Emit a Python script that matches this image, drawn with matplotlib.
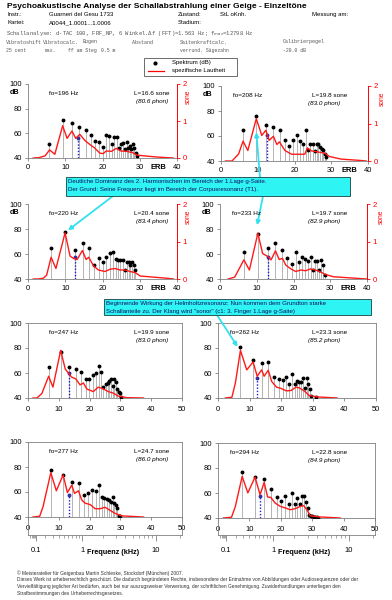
import numpy as np
import matplotlib
matplotlib.use('Agg')
import matplotlib.pyplot as plt
from matplotlib.patches import Rectangle
from matplotlib.lines import Line2D

plt.rcParams['font.family'] = ['Liberation Sans', 'DejaVu Sans']

W, H = 392, 600

# grundtöne, gesamtlautheit
fo_hz = [196, 208, 220, 233, 247, 262, 277, 294]
sone_total = [16.6, 19.8, 20.4, 19.7, 19.9, 23.3, 24.7, 22.8]
phon_total = [80.6, 83.0, 83.4, 82.9, 83.0, 85.2, 86.0, 84.9]

# spektrum (dB) je teilton n = 1, 2, 3 ...
spec_196 = [51, 71, 68, 65, 63, 59, 54, 53, 49, 58.5, 58, 51, 57, 57, 48, 51, 52, 47, 53, 48, 50, 47, 51, 48, 44, 42]
spec_208 = [65, 76, 69, 67, 64.5, 56.5, 52, 57, 61, 56, 54, 65, 48.5, 54, 54, 48, 53.5, 54, 51, 49.5, 48.5, 45.5, 43]
spec_220 = [65, 77.5, 63, 69, 65, 51, 56.5, 54, 58, 61, 62, 56, 55.5, 55.5, 55, 47.5, 54, 54, 51, 54, 51, 47.5]
spec_233 = [61.5, 76, 65, 69, 63, 57, 52, 62, 54, 58, 56, 54.5, 58, 47, 54.5, 54.5, 47, 55, 51, 43]
spec_247 = [65, 77, 65, 63, 60.5, 55, 55.5, 58.5, 60, 66, 61, 49, 51, 52, 53.5, 55.5, 50, 55.5, 52.5, 47, 44.5, 44, 40.5]
spec_262 = [80.5, 70.5, 68, 68.5, 57, 55.5, 54.5, 57, 51.5, 59.5, 51, 53.5, 53, 53, 56, 48, 56, 51, 47, 42, 38, 38, 38, 40.5]
spec_277 = [77.5, 74, 68, 67, 57.5, 59.5, 62, 61, 66, 56, 55.5, 54.5, 53.5, 52, 56, 51.5, 49.5, 47, 40.5, 41]
spec_294 = [77, 73, 71, 63, 56.5, 54, 58, 51, 60, 51, 56, 51, 58, 57.5, 53, 48, 42.5, 42, 42, 41, 40.5, 40.5, 40]

# spezifische Lautheit (ERB, sone)
laut_erb_196 = [1.4, 3.0, 4.6, 5.8, 7.2, 9.3, 10.5, 11.8, 12.8, 13.9, 15.3, 16.8, 17.8, 19.3, 20.2, 21.0, 22.4, 23.7, 24.9, 26.5, 28.2, 29.2, 31.9, 35.5, 39.0]
laut_sone_196 = [0, 0.01, 0.06, 0.22, 0.1, 0.87, 0.53, 0.73, 0.53, 0.64, 0.47, 0.35, 0.28, 0.13, 0.12, 0.19, 0.18, 0.26, 0.19, 0.18, 0.14, 0.08, 0.05, 0.02, 0]
laut_erb_208 = [1.2, 3.0, 4.8, 6.0, 7.3, 9.6, 11.1, 12.2, 13.1, 14.25, 15.2, 15.9, 17.4, 19.2, 22.8, 23.5, 24.6, 26.4, 28.2, 29.5, 32.7, 37.2, 39.5]
laut_sone_208 = [0, 0, 0.19, 0.53, 0.28, 1.13, 0.68, 0.82, 0.55, 0.66, 0.44, 0.51, 0.28, 0.18, 0.18, 0.35, 0.27, 0.24, 0.21, 0.12, 0.05, 0.02, 0]
laut_erb_220 = [1.4, 2.7, 4.1, 5.0, 6.2, 7.5, 9.95, 11.3, 12.2, 13.2, 14.6, 15.6, 16.3, 17.6, 18.9, 20.7, 22.0, 23.4, 24.7, 26.1, 27.4, 28.8, 30.1, 33.7, 37.3, 39.1]
laut_sone_220 = [0, 0, 0.02, 0.1, 0.58, 0.28, 1.23, 0.61, 0.55, 0.52, 0.76, 0.52, 0.58, 0.35, 0.24, 0.2, 0.26, 0.28, 0.24, 0.24, 0.2, 0.17, 0.08, 0.05, 0.02, 0]
laut_erb_233 = [2.2, 4.0, 6.5, 8.0, 10.3, 11.6, 13.0, 13.9, 15.1, 16.1, 17.0, 17.9, 19.3, 20.6, 22.0, 23.3, 24.6, 26.0, 27.3, 28.7, 30.9, 35.4, 39.9]
laut_sone_233 = [0, 0.05, 0.51, 0.24, 1.22, 0.68, 0.6, 0.51, 0.75, 0.52, 0.55, 0.37, 0.27, 0.2, 0.24, 0.22, 0.27, 0.24, 0.19, 0.12, 0.06, 0.03, 0]
laut_erb_247 = [1.6, 2.9, 4.5, 6.7, 8.1, 10.6, 12.1, 12.9, 14.1, 15.5, 16.9, 18.0, 19.1, 21.2, 22.8, 24.5, 26.1, 27.7, 29.3, 32.0, 37.5]
laut_sone_247 = [0, 0, 0.12, 0.58, 0.29, 1.27, 0.77, 0.69, 0.56, 0.51, 0.35, 0.4, 0.24, 0.17, 0.29, 0.24, 0.17, 0.13, 0.05, 0.01, 0]
laut_erb_262 = [2.3, 4.4, 5.5, 7.1, 9.1, 11.1, 12.4, 13.8, 14.6, 15.9, 17.0, 18.5, 20.1, 21.6, 23.1, 24.7, 25.7, 27.3, 28.8, 31.4, 37.7]
laut_sone_262 = [0, 0.02, 0.4, 1.27, 0.75, 0.96, 0.58, 0.75, 0.58, 0.74, 0.44, 0.29, 0.25, 0.19, 0.2, 0.29, 0.27, 0.19, 0.07, 0.03, 0]
laut_erb_277 = [1.6, 3.8, 4.9, 7.4, 9.2, 11.4, 12.8, 14.2, 15.1, 16.4, 17.4, 18.5, 20.2, 21.8, 23.4, 25.0, 26.6, 28.2, 30.4, 37.5]
laut_sone_277 = [0, 0.02, 0.28, 1.18, 0.7, 1.12, 0.65, 0.85, 0.63, 0.7, 0.46, 0.37, 0.33, 0.22, 0.22, 0.26, 0.18, 0.1, 0.03, 0]
laut_erb_294 = [1.7, 4.3, 5.5, 7.7, 9.5, 11.8, 13.4, 14.7, 15.8, 16.8, 18.2, 19.8, 21.4, 23.0, 24.6, 26.2, 27.3, 28.3, 29.4, 32.0, 38.9]
laut_sone_294 = [0, 0.02, 0.3, 1.11, 0.67, 1.09, 0.62, 0.95, 0.56, 0.55, 0.4, 0.31, 0.27, 0.22, 0.25, 0.31, 0.33, 0.22, 0.06, 0.03, 0]

# blaue Markierung
mark_erb = [13.5, 12.6, 12.7, 13.1, 13.2, 12.4, 13.2, 13.5]
mark_db = [56, 61, 58, 58, 60, 56, 58, 58]

freq_major = [0.1, 1, 10]
freq_minor = [0.05, 0.06, 0.07, 0.08, 0.09, 0.2, 0.3, 0.4, 0.5, 0.6, 0.7, 0.8, 0.9,
              2, 3, 4, 5, 6, 7, 8, 9, 20]

spectra = [spec_196, spec_208, spec_220, spec_233, spec_247, spec_262, spec_277, spec_294]
laut_erb = [laut_erb_196, laut_erb_208, laut_erb_220, laut_erb_233, laut_erb_247, laut_erb_262, laut_erb_277, laut_erb_294]
laut_sone = [laut_sone_196, laut_sone_208, laut_sone_220, laut_sone_233, laut_sone_247, laut_sone_262, laut_sone_277, laut_sone_294]

# panel boxes in pixels (x0, y_top, x1, y_bottom)
boxes = [(28, 84, 177, 158), (221, 86, 368, 161),
         (28, 204, 177, 279), (220, 204, 367, 279),
         (28, 323, 182, 398), (218, 323, 376, 398),
         (28, 442, 182, 517), (218, 443, 375, 518)]

GRAY = '#808080'


def erb(f):
    return 21.4 * np.log10(1 + 0.00437 * np.asarray(f, dtype=float))


def freq_pos(f_khz):
    return 1.22 * erb(1000 * np.asarray(f_khz, dtype=float)) - 1.5


fig = plt.figure(figsize=(W / 100, H / 100), dpi=100)


def px_axes(x0, y0, x1, y1):
    return fig.add_axes([x0 / W, 1 - y1 / H, (x1 - x0) / W, (y1 - y0) / H])


def ftxt(x, y, s, **kw):
    kw.setdefault('va', 'center')
    return fig.text(x / W, 1 - y / H, s, **kw)


# header
ftxt(7, 6, 'Psychoakustische Analyse der Schallabstrahlung einer Geige - Einzeltöne',
     fontsize=6.0, fontweight='bold')
for x, s in [(7, 'Instr.:'), (49, 'Guarneri del Gesu 1733'), (178, 'Zustand:'),
             (220, 'StL oKnh.'), (312, 'Messung am:')]:
    ftxt(x, 14.5, s, fontsize=4.3)
for x, s in [(7, 'Kartei:'), (49, 'A0044_1.0001...1.0006'), (178, 'Stadium:')]:
    ftxt(x, 22.5, s, fontsize=4.3)
mono = dict(family=['Liberation Mono', 'DejaVu Sans Mono'], color='#555555')
ftxt(6, 33.5, r'Schallanalyse: d-TAC 100, FRF_NP, 6 Winkel.Δf (FFT)=1.563 Hz; f$_{max}$=12798 Hz',
     fontsize=4.0, **mono)
for x, s in [(6, 'Vibratoshift'), (43, 'Vibratocalc.'), (83, 'Bogen'), (132, 'Abstand'),
             (180, 'Saitenkraftcalc.'), (283, 'Calibrierpegel')]:
    ftxt(x, 42, s, fontsize=3.6, **mono)
for x, s in [(6, '25 cent'), (45, 'max.'), (68, 'ff am Steg'), (101, '0.5 m'),
             (180, 'verrund. Sägezahn'), (283, '-20.0 dB')]:
    ftxt(x, 50.5, s, fontsize=3.4, **mono)

# legend
fig.patches.append(Rectangle((144 / W, 1 - 76 / H), 93 / W, 18 / H, transform=fig.transFigure,
                             facecolor='white', edgecolor='#555555', lw=0.6))
fig.lines.append(Line2D([155 / W], [1 - 62.5 / H], marker='o', ms=2.0, color='black',
                        transform=fig.transFigure))
fig.lines.append(Line2D([148 / W, 164 / W], [1 - 70.5 / H, 1 - 70.5 / H], color='red', lw=0.9,
                        transform=fig.transFigure))
ftxt(172, 62.5, 'Spektrum (dB)', fontsize=4.3)
ftxt(172, 70.5, 'spezifische Lautheit', fontsize=4.3)

axes = []
for i, (x0, y0, x1, y1) in enumerate(boxes):
    upper = i < 4
    right = i % 2 == 1
    ax = px_axes(x0, y0, x1, y1)
    axes.append(ax)
    ax.set_xlim(0, 40 if upper else 50)
    ax.set_ylim(40, 100)
    ax.patch.set_visible(False)

    n = np.arange(1, len(spectra[i]) + 1)
    hx = erb(n * fo_hz[i])
    ax.vlines(hx, 40, spectra[i], colors='#a8a8a8', lw=0.6, zorder=1)
    ax.vlines(mark_erb[i], 40, mark_db[i], colors='#1a1ad0', linestyles=(0, (1, 1.3)), lw=1.0, zorder=2)
    ax.plot(hx, spectra[i], 'o', ms=1.8, color='black', zorder=4)
    ax.plot([mark_erb[i]], [mark_db[i]], 'o', ms=1.8, color='#3030a0', zorder=4)

    ax2 = ax.twinx()
    ax2.set_ylim(0, 2)
    ax2.plot(laut_erb[i], laut_sone[i], color='#ff1a1a', lw=1.0, zorder=3)

    ax.set_yticks([40, 60, 80, 100])
    ax.set_xticks(np.arange(0, 41 if upper else 51, 10))
    ax.tick_params(labelsize=5.4, length=2, width=0.6, color=GRAY, pad=2.5)

    if upper:
        ax.spines['top'].set_visible(False)
        ax.spines['right'].set_visible(False)
        for s in ('left', 'bottom'):
            ax.spines[s].set_color(GRAY)
            ax.spines[s].set_linewidth(0.6)
        for s in ('top', 'left', 'bottom'):
            ax2.spines[s].set_visible(False)
        ax2.spines['right'].set_color('red')
        ax2.spines['right'].set_linewidth(0.7)
        ax2.set_yticks([0, 1, 2])
        ax2.tick_params(axis='y', colors='red', labelsize=5.6, length=2, width=0.6, pad=2)
        ax.annotate('ERB', xy=(35, 40), xytext=(0, -4.5), textcoords='offset points',
                    ha='center', va='top', fontsize=5.4, fontweight='bold')
        ftxt(x0 - 13, y0 + 9, 'dB', fontsize=5.2, fontweight='bold', ha='center')
        ftxt(x1 + 11 if not right else x1 + 14, y0 + 13, 'sone', fontsize=4.8, color='red',
             rotation=90, ha='center')
    else:
        for s in ax.spines.values():
            s.set_color(GRAY)
            s.set_linewidth(0.6)
        ax2.set_axis_off()
        ax.tick_params(axis='x', pad=3.5)

    # Beschriftung
    fo_x = x0 + 21 if not right else x0 + 12
    l_x = 152 if not right else 330
    ty = y0 + 9.5
    ftxt(fo_x, ty, f'fo={fo_hz[i]} Hz', fontsize=4.6)
    ftxt(l_x, ty, f'L={sone_total[i]:.1f} sone', fontsize=4.6, ha='center')
    ftxt(l_x - (0 if not right else 6), ty + 7.7, f'({phon_total[i]:.1f} phon)', fontsize=4.6,
         ha='center', style='italic')

    # Frequenzachse unter der letzten Reihe
    if i >= 6:
        axf = px_axes(x0, y1, x1, 535)
        axf.set_xlim(0, 50)
        axf.set_ylim(0, 1)
        axf.patch.set_visible(False)
        axf.spines['top'].set_visible(False)
        for s in ('left', 'right', 'bottom'):
            axf.spines[s].set_color(GRAY)
            axf.spines[s].set_linewidth(0.6)
        axf.set_yticks([])
        axf.set_xticks(freq_pos(freq_major))
        axf.set_xticklabels(['0.1', '1', '10'])
        axf.set_xticks(freq_pos(freq_minor), minor=True)
        axf.tick_params(axis='x', which='major', labelsize=5.4, length=4, width=0.6, color=GRAY, pad=5)
        axf.tick_params(axis='x', which='minor', length=2.5, width=0.5, color=GRAY)
        ftxt((x0 + x1) / 2 + 8, 553, 'Frequenz (kHz)', fontsize=5.2, fontweight='bold', ha='center')

# Hinweiskästen
CYAN = '#2ff4f4'
fig.patches.append(Rectangle((66 / W, 1 - 196 / H), 284 / W, 19 / H, transform=fig.transFigure,
                             facecolor=CYAN, edgecolor='#2a5a5a', lw=0.7, zorder=5))
box_txt = dict(fontsize=4.4, color='#101060', zorder=6)
ftxt(68, 181.5, 'Deutliche Dominanz des 2. Harmonischen im Bereich der 1.Lage g-Saite.', **box_txt)
ftxt(68, 189.5, 'Der Grund: Seine Frequenz liegt im Bereich der Corpusresonanz (T1).', **box_txt)

fig.patches.append(Rectangle((104 / W, 1 - 315 / H), 267 / W, 16 / H, transform=fig.transFigure,
                             facecolor=CYAN, edgecolor='#2a5a5a', lw=0.7, zorder=5))
ftxt(106, 303.5, 'Beginnende Wirkung der Helmholtzresonanz: Nun kommen dem Grundton starke', **box_txt)
ftxt(106, 311, 'Schallanteile zu. Der Klang wird "sonor" (c1: 3. Finger 1.Lage g-Saite)', **box_txt)

arrow = dict(arrowstyle='-|>', color='#33e0f0', lw=1.3, mutation_scale=6, shrinkA=0, shrinkB=0)
for k, tip, start in [(1, (9.6, 63), (260, 177)), (2, (10.75, 79), (113, 196)),
                      (3, (10.1, 83), (263, 196)), (5, (6.2, 81), (217, 315))]:
    axes[k].annotate('', xy=tip, xycoords='data',
                     xytext=(start[0] / W, 1 - start[1] / H), textcoords='figure fraction',
                     arrowprops=arrow, annotation_clip=False, zorder=6)

# Fußzeile
foot = dict(fontsize=3.5, color='#333333')
ftxt(17, 573, '© Meisteratelier für Geigenbau Martin Schleske, Stockdorf (München) 2007.', **foot)
ftxt(17, 580, 'Dieses Werk ist urheberrechtlich geschützt. Die dadurch begründeten Rechte, insbesondere der '
     'Entnahme von Abbildungen oder Audiosequenzen oder der', **foot)
ftxt(17, 586.5, 'Vervielfältigung jeglicher Art bedürfen, auch bei nur auszugsweiser Verwertung, der '
     'schriftlichen Genehmigung. Zuwiderhandlungen unterliegen den', **foot)
ftxt(17, 593, 'Strafbestimmungen des Urheberrechtsgesetzes.', **foot)

fig.savefig('out.png', dpi=100)
